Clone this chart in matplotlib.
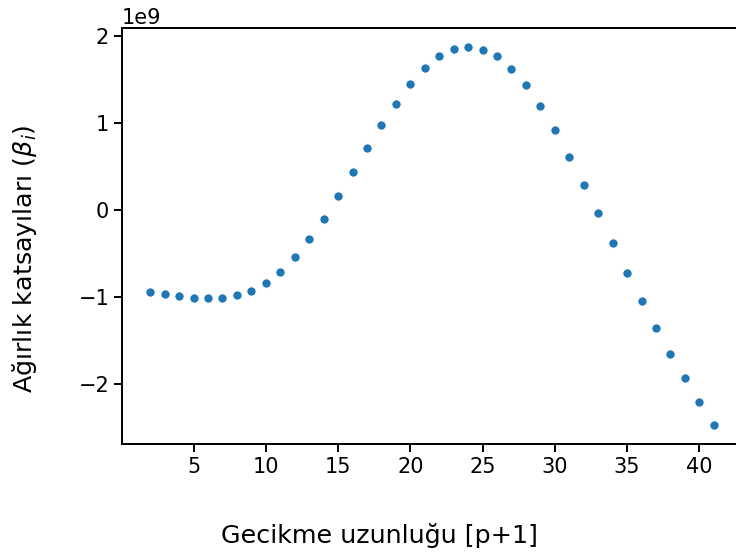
import matplotlib
matplotlib.use("Agg")
import matplotlib.pyplot as plt

# lag length and weight coefficients (x1e9)
lags = list(range(2, 42))
betas = [
    -0.946, -0.966, -0.985, -1.011, -1.010, -1.010, -0.977, -0.925, -0.833, -0.712,
    -0.544, -0.333, -0.103, 0.161, 0.441, 0.716, 0.981, 1.222, 1.444, 1.632,
    1.766, 1.854, 1.874, 1.843, 1.766, 1.621, 1.437, 1.192, 0.923, 0.613,
    0.291, -0.038, -0.379, -0.724, -1.046, -1.353, -1.655, -1.927, -2.207, -2.471,
]
betas = [b * 1e9 for b in betas]

plt.rcParams["font.size"] = 15
plt.rcParams["axes.linewidth"] = 1.4
plt.rcParams["xtick.major.width"] = 1.4
plt.rcParams["ytick.major.width"] = 1.4
plt.rcParams["xtick.major.size"] = 5.8
plt.rcParams["ytick.major.size"] = 5.8

W, H = 736, 557
fig = plt.figure(figsize=(W / 100, H / 100), dpi=100)
ax = fig.add_axes([122 / W, (H - 444) / H, (742 - 122) / W, (444 - 28) / H])

ax.scatter(lags, betas, s=44, color="#1f77b4", edgecolor="white", linewidth=0.6)

ax.set_xticks([5, 10, 15, 20, 25, 30, 35, 40])
ax.set_xlabel("Gecikme uzunluğu [p+1]", fontsize=18.3, va="center")
ax.set_ylabel(r"Ağırlık katsayıları ($\beta_i$)", fontsize=18.3, va="center")
# label centres as in the original picture
ax.xaxis.set_label_coords(379 / W, (H - 536) / H, transform=fig.transFigure)
ax.yaxis.set_label_coords(25 / W, (H - 259) / H, transform=fig.transFigure)

fig.savefig("out.png", dpi=100)
